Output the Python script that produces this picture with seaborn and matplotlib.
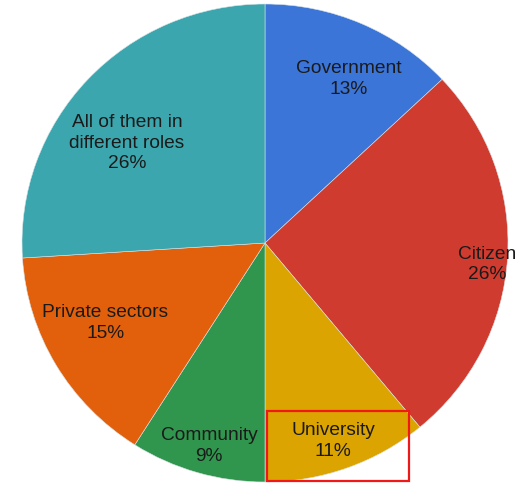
import matplotlib
matplotlib.use("Agg")
import matplotlib.pyplot as plt
from matplotlib.patches import Rectangle
import seaborn as sns

# Who should lead the initiative (share of responses, %)
categories = ["Government", "Citizen", "University", "Community",
              "Private sectors", "All of them in\ndifferent roles"]
shares = [13, 26, 11, 9, 15, 26]
slice_colors = ["#3b75d8", "#d03b2f", "#dca400", "#30954d", "#e2600b", "#3ca6ae"]

# Label anchors (pie data units, centre at origin, radius 1)
label_xy = [(0.346, 0.688), (0.914, -0.090), (0.280, -0.830),
            (-0.230, -0.851), (-0.658, -0.335), (-0.568, 0.418)]

sns.set_theme(style="white")
plt.rcParams["font.family"] = ["Liberation Sans", "DejaVu Sans"]

fig = plt.figure(figsize=(5.15, 4.83), dpi=100)
ax = fig.add_axes([22 / 515, 1 / 483, 486 / 515, 478 / 483])

palette = sns.color_palette(slice_colors)
ax.pie(shares, colors=palette, startangle=90, counterclock=False,
       wedgeprops=dict(linewidth=0.4, edgecolor="#d8e2e6"))
ax.set_aspect("auto")
ax.set_xlim(-1, 1)
ax.set_ylim(-1, 1)
ax.axis("off")

for name, val, (x, y) in zip(categories, shares, label_xy):
    ax.text(x, y, f"{name}\n{val}%", ha="center", va="center",
            multialignment="center", fontsize=13.8, color="#1a1a1a",
            linespacing=1.3)

# Highlight box around the University slice label
ax.add_patch(Rectangle((0.008, -0.996), 0.585, 0.293, fill=False,
                       edgecolor="#f01818", linewidth=1.6, clip_on=False,
                       zorder=5))

fig.savefig("out.png", dpi=100)
